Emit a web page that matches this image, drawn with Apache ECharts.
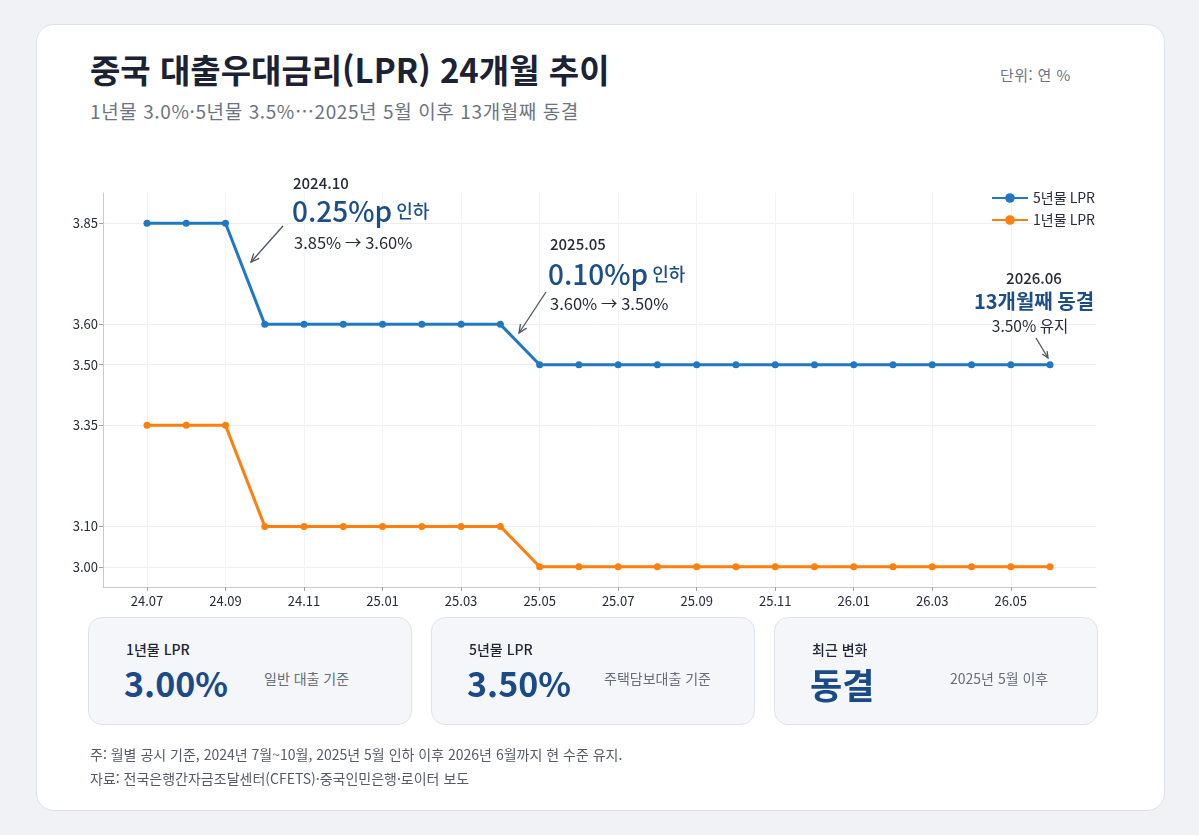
<!DOCTYPE html>
<html lang="ko">
<head>
<meta charset="utf-8">
<title>중국 대출우대금리(LPR) 24개월 추이</title>
<script src="https://cdn.jsdelivr.net/npm/echarts@6.0.0/dist/echarts.min.js"></script>
<style>
  html, body { margin: 0; padding: 0; }
  body {
    width: 1199px; height: 835px; position: relative; overflow: hidden;
    background: #f1f2f5;
    font-family: "Noto Sans CJK KR", "Noto Sans", sans-serif;
  }
  .panel {
    position: absolute; left: 36px; top: 24px; width: 1129px; height: 787px;
    background: #fff; border: 1px solid #dfe2e8; border-radius: 18px;
    box-sizing: border-box;
  }
  .title { position: absolute; left: 90px; top: 45px; font-size: 33px; font-weight: 700; color: #1b2233; }
  .subtitle { position: absolute; left: 90px; top: 97px; font-size: 19px; color: #6d7480; letter-spacing: 0.6px; }
  .unit { position: absolute; left: 1000px; top: 64px; font-size: 15px; color: #6d7480; letter-spacing: 0.4px; }
  #chart { position: absolute; left: 0; top: 0; width: 1199px; height: 835px; }
  .card {
    position: absolute; top: 617px; height: 108px; width: 324px;
    background: #f4f6fa; border: 1px solid #dde2ec; border-radius: 14px; box-sizing: border-box;
  }
  .card .lab { position: absolute; left: 37px; top: 21px; font-size: 14px; font-weight: 500; color: #1f2533; }
  .card .val { position: absolute; left: 35px; top: 40px; font-size: 34px; font-weight: 700; color: #1a4a87; }
  .card .note { position: absolute; top: 50px; font-size: 14px; color: #666c78; }
  .foot { position: absolute; left: 90px; font-size: 14px; color: #555b66; }
</style>
</head>
<body>
<div class="panel"></div>
<div class="title">중국 대출우대금리(LPR) 24개월 추이</div>
<div class="subtitle">1년물 3.0%·5년물 3.5%…2025년 5월 이후 13개월째 동결</div>
<div class="unit">단위: 연 %</div>
<div id="chart"></div>

<div class="card" style="left:88px"><div class="lab">1년물 LPR</div><div class="val">3.00%</div><div class="note" style="left:175px">일반 대출 기준</div></div>
<div class="card" style="left:431px"><div class="lab">5년물 LPR</div><div class="val">3.50%</div><div class="note" style="left:172px">주택담보대출 기준</div></div>
<div class="card" style="left:774px"><div class="lab">최근 변화</div><div class="val" style="font-size:35px">동결</div><div class="note" style="left:175px">2025년 5월 이후</div></div>

<div class="foot" style="top:744px">주: 월별 공시 기준, 2024년 7월~10월, 2025년 5월 인하 이후 2026년 6월까지 현 수준 유지.</div>
<div class="foot" style="top:768px">자료: 전국은행간자금조달센터(CFETS)·중국인민은행·로이터 보도</div>

<script>
// 월 (24.07 ~ 26.06)
const months = [
  "24.07", "24.08", "24.09", "24.10", "24.11", "24.12",
  "25.01", "25.02", "25.03", "25.04", "25.05", "25.06",
  "25.07", "25.08", "25.09", "25.10", "25.11", "25.12",
  "26.01", "26.02", "26.03", "26.04", "26.05", "26.06"
];
const lpr5y = [3.85, 3.85, 3.85, 3.60, 3.60, 3.60, 3.60, 3.60, 3.60, 3.60, 3.50, 3.50,
  3.50, 3.50, 3.50, 3.50, 3.50, 3.50, 3.50, 3.50, 3.50, 3.50, 3.50, 3.50];
const lpr1y = [3.35, 3.35, 3.35, 3.10, 3.10, 3.10, 3.10, 3.10, 3.10, 3.10, 3.00, 3.00,
  3.00, 3.00, 3.00, 3.00, 3.00, 3.00, 3.00, 3.00, 3.00, 3.00, 3.00, 3.00];
const yTicks = [3.00, 3.10, 3.35, 3.50, 3.60, 3.85];
const xTickIdx = [0, 2, 4, 6, 8, 10, 12, 14, 16, 18, 20, 22];

const BLUE = "#1f78c1";
const ORANGE = "#ff7f0e";
const DARK = "#262b36";
const NAVY = "#1d4e8c";
const FONT = '"Noto Sans CJK KR", "Noto Sans", sans-serif';

function txt(x, y, text, size, color, weight, align) {
  return {
    type: "text", x: x, y: y, z: 10,
    style: {
      text: text, fill: color, textAlign: align || "left", textVerticalAlign: "middle",
      font: (weight || "normal") + " " + size + "px " + FONT
    }
  };
}

// 화살표 (선 + 머리)
function arrow(x1, y1, x2, y2, head) {
  const ang = Math.atan2(y2 - y1, x2 - x1);
  const h = head || 9, w = 0.42;
  const p1 = [x2 - h * Math.cos(ang - w), y2 - h * Math.sin(ang - w)];
  const p2 = [x2 - h * Math.cos(ang + w), y2 - h * Math.sin(ang + w)];
  return [
    { type: "line", z: 10, shape: { x1: x1, y1: y1, x2: x2, y2: y2 }, style: { stroke: "#4a5466", lineWidth: 1.3 } },
    { type: "polyline", z: 10, shape: { points: [p1, [x2, y2], p2] }, style: { stroke: "#4a5466", lineWidth: 1.3, fill: null } }
  ];
}

function rich(x, y, big, small) {
  return {
    type: "text", x: x, y: y, z: 10,
    style: {
      text: "{a|" + big + "}{b|" + small + "}",
      textVerticalAlign: "middle",
      rich: {
        a: { fontSize: 28, fontWeight: 500, fill: NAVY, fontFamily: FONT },
        b: { fontSize: 18, fontWeight: 500, fill: NAVY, fontFamily: FONT }
      }
    }
  };
}

const chart = echarts.init(document.getElementById("chart"));

const option = {
  animation: false,
  grid: { left: 103, right: 103, top: 193, bottom: 248 },
  legend: {
    right: 99, top: 186, orient: "vertical", itemWidth: 36, itemHeight: 12, itemGap: 8,
    textStyle: { fontSize: 14, color: DARK, fontFamily: FONT },
    data: ["5년물 LPR", "1년물 LPR"]
  },
  xAxis: {
    type: "value", min: -1.12, max: 24.17,
    axisLine: { show: true, onZero: false, lineStyle: { color: "#c5cad3" } },
    axisTick: { show: true, length: 4, customValues: xTickIdx, lineStyle: { color: "#9aa0aa" } },
    axisLabel: {
      customValues: xTickIdx, color: DARK, fontSize: 13, fontFamily: FONT, margin: 8,
      formatter: function (v) { return months[Math.round(v)] || ""; }
    },
    splitLine: { show: true, lineStyle: { color: "#f3f4f6" } }
  },
  yAxis: {
    type: "value", min: 2.95, max: 3.925,
    axisLine: { show: true, onZero: false, lineStyle: { color: "#c5cad3" } },
    axisTick: { show: true, length: 4, customValues: yTicks, lineStyle: { color: "#9aa0aa" } },
    axisLabel: {
      customValues: yTicks, color: DARK, fontSize: 13, fontFamily: FONT, margin: 5,
      formatter: function (v) { return v.toFixed(2); }
    },
    splitLine: { show: true, lineStyle: { color: "#eceef2" } }
  },
  series: [
    {
      name: "5년물 LPR", type: "line", color: BLUE,
      data: lpr5y.map((v, i) => [i, v]),
      symbol: "circle", symbolSize: 7, lineStyle: { width: 3 }
    },
    {
      name: "1년물 LPR", type: "line", color: ORANGE,
      data: lpr1y.map((v, i) => [i, v]),
      symbol: "circle", symbolSize: 7, lineStyle: { width: 3 }
    }
  ],
  graphic: [
    txt(293, 183, "2024.10", 15, DARK, "500"),
    rich(292, 211, "0.25%p", " 인하"),
    txt(294, 243, "3.85% → 3.60%", 16.5, DARK, "normal"),
    ...arrow(283, 226, 251, 262),
    txt(550, 244, "2025.05", 15, DARK, "500"),
    rich(548, 274, "0.10%p", " 인하"),
    txt(550, 304, "3.60% → 3.50%", 16.5, DARK, "normal"),
    ...arrow(546, 292, 519, 333),
    txt(1034, 278, "2026.06", 15, DARK, "500", "center"),
    txt(1034, 301, "13개월째 동결", 20, NAVY, "bold", "center"),
    txt(1030, 326, "3.50% 유지", 15.5, DARK, "normal", "center"),
    ...arrow(1036, 338, 1048, 358, 7)
  ]
};

chart.setOption(option);
</script>
</body>
</html>
